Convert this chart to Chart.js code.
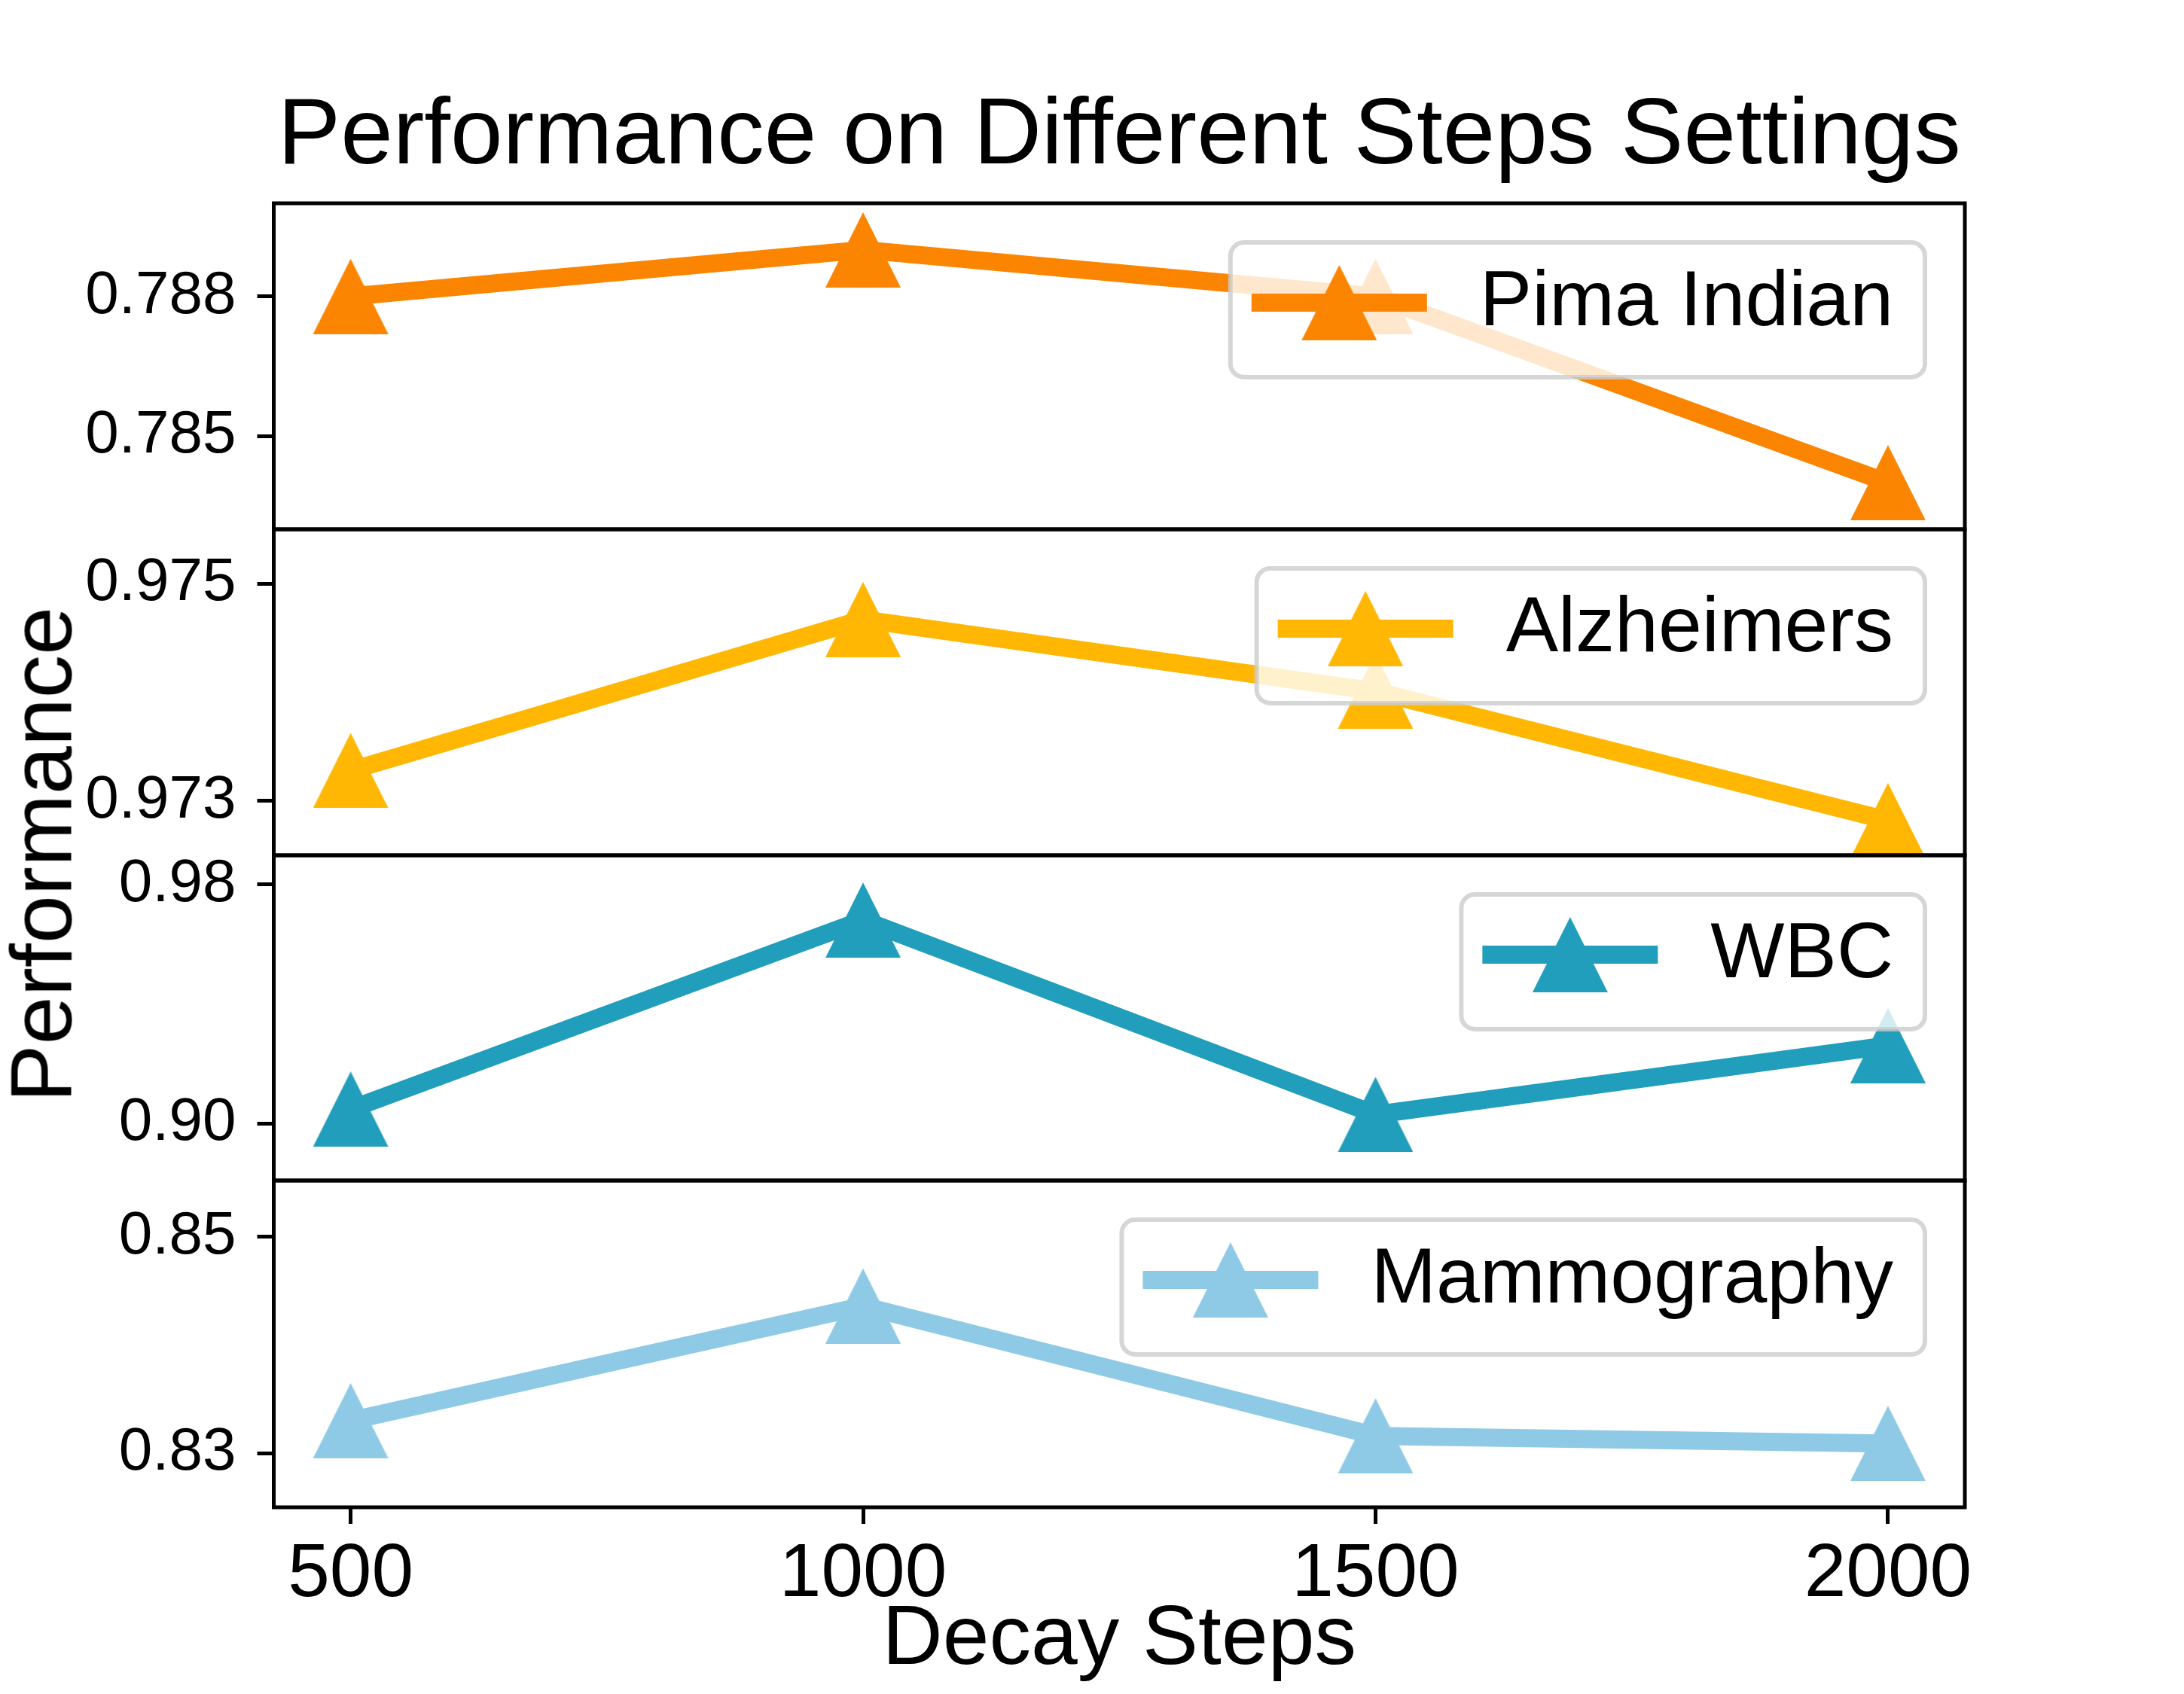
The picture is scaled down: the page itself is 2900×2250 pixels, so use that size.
<!DOCTYPE html>
<html>
<head>
    <meta charset="UTF-8">
    <title>Performance on Different Steps Settings</title>
    <script src="https://cdn.jsdelivr.net/npm/chart.js"></script>
    <style>
        body { margin: 0; background: #fff; }
        #wrap { position: relative; width: 2900px; height: 2250px; overflow: hidden; }
        #wrap canvas { position: absolute; left: 0; }
        #ylab {
            position: absolute; left: 55px; top: 1135px;
            transform: translate(-50%, -50%) rotate(-90deg);
            font: 115px/115px "Liberation Sans", Arial, sans-serif;
            white-space: nowrap; color: #000;
        }
    </style>
</head>
<body>
<div id="wrap">
    <!-- panels: 270-703, 703-1136, 1136-1568, 1568-2002; canvases overlap by 100px padding -->
    <canvas id="c1" width="2900" height="803" style="top:0px"></canvas>
    <canvas id="c2" width="2900" height="633" style="top:603px"></canvas>
    <canvas id="c3" width="2900" height="632" style="top:1036px"></canvas>
    <canvas id="c4" width="2900" height="782" style="top:1468px"></canvas>
    <div id="ylab">Performance</div>
</div>
<script>
    // values
    var steps = [500, 1000, 1500, 2000];
    var pimaIndian = [0.7880, 0.7890, 0.7880, 0.7840];
    var alzheimers = [0.97328, 0.97467, 0.97401, 0.97282];
    var wbc = [0.9048, 0.9681, 0.9030, 0.9261];
    var mammography = [0.8330, 0.8436, 0.8316, 0.8309];

    var seriesNames = ['Pima Indian', 'Alzheimers', 'WBC', 'Mammography'];
    var seriesColors = ['#fb8500', '#ffb703', '#219ebc', '#8ecae6'];

    var pimaTicks = [0.785, 0.788];
    var alzTicks = [0.973, 0.975];
    var wbcTicks = [0.90, 0.98];
    var mammoTicks = [0.83, 0.85];
    var tickDecimals = [3, 3, 2, 2];

    var yLimits = [[0.783, 0.790], [0.9725, 0.9755], [0.8809, 0.9898], [0.825, 0.8552]];
    var xLimits = [425, 2075];
    var xTicks = [500, 1000, 1500, 2000];

    var FONT = '"Liberation Sans", Arial, Helvetica, sans-serif';
    Chart.defaults.font.family = FONT;
    Chart.defaults.color = '#000';

    function triangle(color) {
        var c = document.createElement('canvas');
        c.width = 100; c.height = 100;
        var g = c.getContext('2d');
        g.fillStyle = color;
        g.beginPath();
        g.moveTo(50, 0); g.lineTo(100, 100); g.lineTo(0, 100);
        g.closePath();
        g.fill();
        return c;
    }

    // frame + matplotlib-like legend box in the upper right of each panel
    var panelDecor = {
        id: 'panelDecor',
        afterDatasetsDraw: function (chart) {
            var a = chart.chartArea;
            var ctx = chart.ctx;
            var ds = chart.data.datasets[0];
            ctx.save();
            ctx.strokeStyle = '#000';
            ctx.lineWidth = 5;
            ctx.strokeRect(a.left, a.top, a.right - a.left, a.bottom - a.top);

            ctx.font = '104px ' + FONT;
            var tw = ctx.measureText(ds.label).width;
            var w = 28 + 233 + 70 + tw + 42, h = 179;
            var right = a.right - 53, top = a.top + 52, left = right - w;
            ctx.beginPath();
            ctx.roundRect(left, top, w, h, 18);
            ctx.fillStyle = 'rgba(255,255,255,0.8)';
            ctx.fill();
            ctx.lineWidth = 6;
            ctx.strokeStyle = 'rgba(204,204,204,0.8)';
            ctx.stroke();

            var ly = top + 80;
            ctx.strokeStyle = ds.borderColor;
            ctx.lineWidth = 24;
            ctx.lineCap = 'butt';
            ctx.beginPath();
            ctx.moveTo(left + 28, ly);
            ctx.lineTo(left + 261, ly);
            ctx.stroke();
            ctx.drawImage(ds.pointStyle, left + 28 + 116.5 - 50, ly - 50);

            ctx.fillStyle = '#000';
            ctx.textAlign = 'left';
            ctx.textBaseline = 'middle';
            ctx.fillText(ds.label, left + 331, top + 81);
            ctx.restore();
        }
    };

    var panels = [
        { id: 'c1', values: pimaIndian, ticks: pimaTicks, top: 0, bottom: 100, title: true, xAxis: false },
        { id: 'c2', values: alzheimers, ticks: alzTicks, top: 100, bottom: 100, title: false, xAxis: false },
        { id: 'c3', values: wbc, ticks: wbcTicks, top: 100, bottom: 100, title: false, xAxis: false },
        { id: 'c4', values: mammography, ticks: mammoTicks, top: 100, bottom: 0, title: false, xAxis: true }
    ];

    panels.forEach(function (p, i) {
        var ctx = document.getElementById(p.id).getContext('2d');
        new Chart(ctx, {
            type: 'line',
            data: {
                datasets: [{
                    label: seriesNames[i],
                    data: steps.map(function (s, k) { return { x: s, y: p.values[k] }; }),
                    borderColor: seriesColors[i],
                    backgroundColor: seriesColors[i],
                    borderWidth: 24,
                    borderJoinStyle: 'round',
                    borderCapStyle: 'square',
                    tension: 0,
                    fill: false,
                    pointStyle: triangle(seriesColors[i]),
                    pointRadius: 50,
                    pointBorderWidth: 0
                }]
            },
            options: {
                responsive: false,
                animation: false,
                devicePixelRatio: 1,
                layout: { padding: { top: p.top, bottom: p.bottom, left: 0, right: 291 } },
                plugins: {
                    legend: { display: false },
                    tooltip: { enabled: false },
                    title: {
                        display: p.title,
                        text: 'Performance on Different Steps Settings',
                        fullSize: false,
                        color: '#000',
                        font: { size: 125, weight: 'normal', lineHeight: 1.2 },
                        padding: { top: 108, bottom: 12 }
                    }
                },
                scales: {
                    x: {
                        type: 'linear',
                        display: p.xAxis,
                        min: xLimits[0],
                        max: xLimits[1],
                        afterBuildTicks: function (scale) {
                            scale.ticks = xTicks.map(function (v) { return { value: v }; });
                        },
                        afterFit: function (scale) {
                            scale.height = p.xAxis ? 248 : 0;
                            scale.paddingLeft = 0;
                            scale.paddingRight = 0;
                        },
                        grid: { display: true, drawOnChartArea: false, drawTicks: true, tickLength: 22, tickWidth: 5, color: '#000' },
                        border: { display: false },
                        ticks: {
                            autoSkip: false, maxRotation: 0, padding: 8, color: '#000',
                            font: { size: 100 },
                            callback: function (v) { return String(v); }
                        },
                        title: {
                            display: true,
                            text: 'Decay Steps',
                            color: '#000',
                            font: { size: 111 },
                            padding: { top: 0, bottom: 4 }
                        }
                    },
                    y: {
                        type: 'linear',
                        min: yLimits[i][0],
                        max: yLimits[i][1],
                        afterBuildTicks: function (scale) {
                            scale.ticks = p.ticks.map(function (v) { return { value: v }; });
                        },
                        afterFit: function (scale) {
                            scale.width = 363.5;
                            scale.paddingTop = 0;
                            scale.paddingBottom = 0;
                        },
                        grid: { display: true, drawOnChartArea: false, drawTicks: true, tickLength: 22, tickWidth: 5, color: '#000' },
                        border: { display: false },
                        ticks: {
                            padding: 28, color: '#000',
                            font: { size: 80 },
                            callback: function (v) { return Number(v).toFixed(tickDecimals[i]); }
                        }
                    }
                }
            },
            plugins: [panelDecor]
        });
    });
</script>
</body>
</html>
